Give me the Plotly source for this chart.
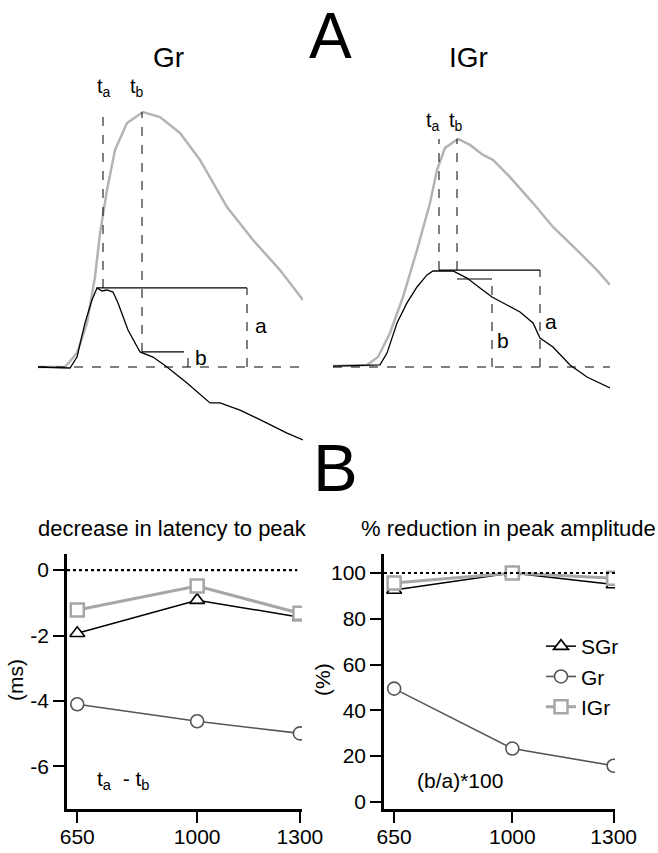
import plotly.graph_objects as go

W, H = 658, 853
FONT = "Liberation Sans, Arial, sans-serif"


def fx(x):
    return x / W


def fy(y):
    return 1 - y / H


# ---- Panel A: example traces (time in ms, amplitude normalised to control peak)
# Gr: grey = control, black = test
gr_t_ctrl = [0, 2.7, 3.9, 4.9, 5.7, 6.2, 6.9, 7.7, 8.9, 10.5, 12.2, 14.2, 16.2, 18.9, 21.5, 24.2, 26.5]
gr_ctrl = [0, 0, 0.055, 0.173, 0.353, 0.525, 0.694, 0.851, 0.957, 1.0, 0.98, 0.918, 0.812, 0.627, 0.498, 0.38, 0.263]
gr_t_test = [0, 3.2, 3.9, 4.7, 5.4, 5.9, 6.4, 6.9, 7.5, 8.0, 9.0, 10.2, 11.5, 12.9, 14.9, 17.2, 18.2,
             20.2, 22.9, 24.9, 26.5]
gr_test = [0, -0.004, 0.039, 0.173, 0.263, 0.31, 0.298, 0.302, 0.294, 0.251, 0.145, 0.059, 0.039, 0.0,
           -0.063, -0.141, -0.141, -0.169, -0.22, -0.259, -0.286]
gr_ta, gr_tb = 6.5, 10.4
gr_a, gr_b = 0.31, 0.059

# IGr
igr_t_ctrl = [0, 3.4, 4.5, 5.7, 7.0, 8.4, 9.7, 10.4, 11.2, 12.5, 13.7, 15.0, 16.0, 17.7, 20.0, 22.0,
              24.4, 26.4, 27.7]
igr_ctrl = [0.004, 0.009, 0.044, 0.149, 0.307, 0.513, 0.719, 0.864, 0.961, 1.0, 0.974, 0.93, 0.908,
            0.833, 0.719, 0.614, 0.513, 0.425, 0.36]
igr_t_test = [0, 4.7, 5.4, 6.4, 7.4, 8.4, 9.4, 10.0, 12.0, 13.4, 14.7, 15.9, 17.4, 18.7, 20.0, 20.7,
              22.0, 23.7, 25.4, 27.7]
igr_test = [0.004, 0.009, 0.061, 0.193, 0.281, 0.351, 0.404, 0.421, 0.421, 0.39, 0.346, 0.307, 0.272,
            0.241, 0.193, 0.127, 0.088, 0.009, -0.044, -0.092]
igr_ta, igr_tb = 10.6, 12.4
igr_a, igr_b = 0.425, 0.386

# ---- Panel B: summary
isi = [650, 1000, 1300]
lat_sgr = [-1.93, -0.92, -1.44]
lat_gr = [-4.10, -4.62, -4.99]
lat_igr = [-1.22, -0.49, -1.32]
amp_sgr = [92.6, 100, 95.0]
amp_gr = [49.5, 23.3, 15.8]
amp_igr = [95.6, 100, 97.7]

fig = go.Figure()

# traces for panel A
fig.add_trace(go.Scatter(x=gr_t_ctrl, y=gr_ctrl, xaxis="x3", yaxis="y3", mode="lines",
                         line=dict(color="#b4b4b4", width=2.5), showlegend=False))
fig.add_trace(go.Scatter(x=gr_t_test, y=gr_test, xaxis="x3", yaxis="y3", mode="lines",
                         line=dict(color="black", width=1.3), showlegend=False))
fig.add_trace(go.Scatter(x=igr_t_ctrl, y=igr_ctrl, xaxis="x4", yaxis="y4", mode="lines",
                         line=dict(color="#b4b4b4", width=2.5), showlegend=False))
fig.add_trace(go.Scatter(x=igr_t_test, y=igr_test, xaxis="x4", yaxis="y4", mode="lines",
                         line=dict(color="black", width=1.3), showlegend=False))

# summary traces
styles = {
    "SGr": dict(line=dict(color="black", width=1.5),
                marker=dict(symbol="triangle-up", size=13, color="white",
                            line=dict(color="black", width=1.6))),
    "Gr": dict(line=dict(color="#555555", width=1.6),
               marker=dict(symbol="circle", size=13, color="white",
                           line=dict(color="#555555", width=1.6))),
    "IGr": dict(line=dict(color="#a6a6a6", width=3),
                marker=dict(symbol="square", size=13, color="white",
                            line=dict(color="#a6a6a6", width=2.5))),
}
for name, lat, amp in [("SGr", lat_sgr, amp_sgr), ("Gr", lat_gr, amp_gr), ("IGr", lat_igr, amp_igr)]:
    fig.add_trace(go.Scatter(x=isi, y=lat, mode="lines+markers", name=name, showlegend=False,
                             xaxis="x", yaxis="y", **styles[name]))
    fig.add_trace(go.Scatter(x=isi, y=amp, mode="lines+markers", name=name, showlegend=True,
                             xaxis="x2", yaxis="y2", **styles[name]))

shapes = []


def seg(ax, x0, y0, x1, y1, dash="solid", width=1.2):
    shapes.append(dict(type="line", xref="x" + ax, yref="y" + ax, x0=x0, y0=y0, x1=x1, y1=y1,
                       line=dict(color="black", width=width, dash=dash)))


# Gr markers
shapes.append(dict(type="line", xref="x3 domain", yref="y3", x0=0, x1=1, y0=0, y1=0,
                   line=dict(color="black", width=1, dash="dash")))
seg("3", gr_ta, gr_a, gr_ta, 1.0, "dash", 1)
seg("3", gr_tb, gr_b, gr_tb, 1.0, "dash", 1)
seg("3", 5.9, gr_a, 20.9, gr_a)
seg("3", 20.9, 0, 20.9, gr_a, "dash", 1)
seg("3", gr_tb, gr_b, 14.6, gr_b)
seg("3", 15.0, 0, 15.0, gr_b, "dash", 1)
# IGr markers
shapes.append(dict(type="line", xref="x4 domain", yref="y4", x0=0, x1=1, y0=0, y1=0,
                   line=dict(color="black", width=1, dash="dash")))
seg("4", igr_ta, igr_a, igr_ta, 1.0, "dash", 1)
seg("4", igr_tb, igr_a, igr_tb, 1.0, "dash", 1)
seg("4", igr_ta, igr_a, 20.7, igr_a)
seg("4", 20.7, 0, 20.7, igr_a, "dash", 1)
seg("4", igr_tb, igr_b, 15.9, igr_b)
seg("4", 15.9, 0, 15.9, igr_b, "dash", 1)

# reference lines in B
shapes.append(dict(type="line", xref="x domain", yref="y", x0=0, x1=0.98, y0=0, y1=0,
                   line=dict(color="black", width=2.2, dash="dot")))
shapes.append(dict(type="line", xref="x2 domain", yref="y2", x0=0, x1=1, y0=100, y1=100,
                   line=dict(color="black", width=2.2, dash="dot")))

ann = []


def txt(x, y, s, size=21, xanchor="center", **kw):
    ann.append(dict(x=fx(x), y=fy(y), xref="paper", yref="paper", text=s, showarrow=False,
                    xanchor=xanchor, yanchor="middle",
                    font=dict(size=size, color="black", family=FONT), **kw))


txt(330, 36, "A", 64)
txt(335, 468, "B", 67)
txt(168, 57, "Gr", 28)
txt(468, 57, "IGr", 28)
txt(104, 88, "t<sub>a</sub>", 20)
txt(137, 88, "t<sub>b</sub>", 20)
txt(433, 122, "t<sub>a</sub>", 20)
txt(456, 122, "t<sub>b</sub>", 20)
txt(253, 325, "a", 21, xanchor="left")
txt(193, 357, "b", 21, xanchor="left")
txt(543, 321, "a", 21, xanchor="left")
txt(495, 340, "b", 21, xanchor="left")
txt(172, 528, "decrease in latency to peak", 22)
txt(508, 528, "% reduction in peak amplitude", 22)
txt(15, 680, "(ms)", 21, textangle=-90)
txt(322, 680, "(%)", 21, textangle=-90)
txt(123, 780, "t<sub>a</sub>  - t<sub>b</sub>", 21)
txt(460, 780, "(b/a)*100", 21)

hidden = dict(visible=False, showgrid=False, zeroline=False, fixedrange=True, automargin=False)
axis_b = dict(showline=True, linecolor="black", linewidth=2.5, ticks="outside", ticklen=11,
              tickwidth=2, tickcolor="black", showgrid=False, zeroline=False, automargin=False,
              tickfont=dict(size=21, color="black", family=FONT))

fig.update_layout(
    template="none",
    width=W, height=H, margin=dict(l=0, r=0, t=0, b=0, pad=0),
    paper_bgcolor="white", plot_bgcolor="white",
    font=dict(family=FONT, color="black"),
    xaxis=dict(domain=[fx(67), fx(302)], range=[620, 1306], tickvals=isi, anchor="y",
               ticklabelstandoff=-4, **axis_b),
    yaxis=dict(domain=[fy(809), fy(554)], range=[-7.30, 0.49], tickvals=[0, -2, -4, -6],
               ticktext=["0", "-2", "-4", "-6"], anchor="x", **axis_b),
    xaxis2=dict(domain=[fx(384), fx(615)], range=[620, 1304], tickvals=isi, anchor="y2",
                ticklabelstandoff=-4, **axis_b),
    yaxis2=dict(domain=[fy(809), fy(554)], range=[-3.1, 108.3], tickvals=[0, 20, 40, 60, 80, 100],
                anchor="x2", **axis_b),
    xaxis3=dict(domain=[fx(38), fx(303)], range=[0, 26.5], anchor="y3", **hidden),
    yaxis3=dict(domain=[fy(469), fy(86.5)], range=[-0.4, 1.1], anchor="x3", **hidden),
    xaxis4=dict(domain=[fx(333), fx(610)], range=[0, 27.7], anchor="y4", **hidden),
    yaxis4=dict(domain=[fy(458.2), fy(116.2)], range=[-0.4, 1.1], anchor="x4", **hidden),
    shapes=shapes,
    annotations=ann,
    legend=dict(x=fx(541), y=fy(626), xanchor="left", yanchor="top", bgcolor="rgba(0,0,0,0)",
                font=dict(size=21, color="black", family=FONT), itemwidth=30, tracegroupgap=0),
    showlegend=True,
)

fig.write_html("out.html", config={"displayModeBar": False},
               post_script="document.body.style.margin='0';")
